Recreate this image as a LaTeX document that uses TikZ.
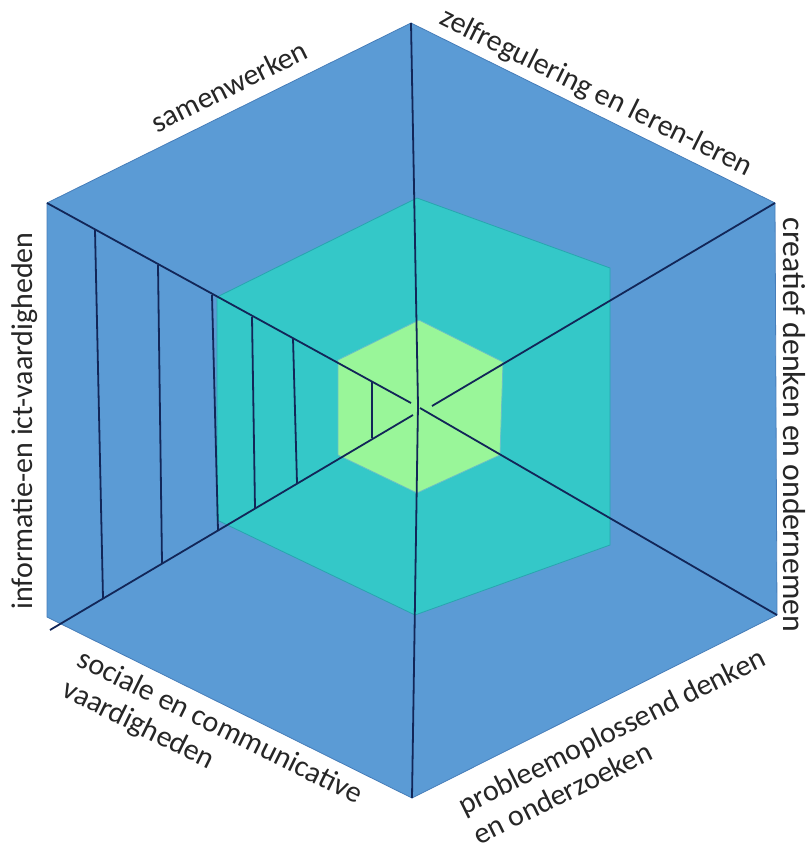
\documentclass[tikz,border=0pt]{standalone}
\usepackage{fontspec}
\setmainfont{Carlito}
\usetikzlibrary{calc}

\definecolor{outerblue}{RGB}{91,155,213}
\definecolor{outeredge}{RGB}{70,125,185}
\definecolor{midteal}{RGB}{52,200,200}
\definecolor{midedge}{RGB}{40,165,175}
\definecolor{innergreen}{RGB}{153,246,153}
\definecolor{spokecol}{RGB}{18,38,88}

\tikzset{
  spoke/.style={spokecol, line width=1.8pt},
  rung/.style={spokecol, line width=1.8pt},
  skill/.style={font=\fontsize{30}{34}\selectfont, text=black!85, inner sep=0pt, align=left}
}

\begin{document}
\begin{tikzpicture}[x=1pt, y=-1pt]
    \useasboundingbox (0,0) rectangle (808,849);

    % Outer hexagon
    \coordinate (oT) at (411,23);
    \coordinate (oUR) at (775,203);
    \coordinate (oLR) at (777,615);
    \coordinate (oB) at (412,798);
    \coordinate (oLL) at (47,617);
    \coordinate (oUL) at (47,203);
    \filldraw[fill=outerblue, draw=outeredge, line width=0.8pt]
        (oT) -- (oUR) -- (oLR) -- (oB) -- (oLL) -- (oUL) -- cycle;

    % Middle hexagon
    \filldraw[fill=midteal, draw=midedge, line width=0.8pt]
        (417,198) -- (610,268) -- (610,545) -- (415,615) -- (217,520) -- (217,297) -- cycle;

    % Inner hexagon
    \filldraw[fill=innergreen, draw=midedge!70, line width=0.8pt]
        (419,320) -- (503,362) -- (500,455) -- (417,493) -- (338,455) -- (338,360) -- cycle;

    % Spokes
    \coordinate (c) at (418,405);
    \draw[spoke] (oT) -- (c) -- (oB);
    \draw[spoke] (oUL) -- (411,403);
    \draw[spoke] (50,630) -- (413,415);
    \draw[spoke] (oUR) -- (432,406);
    \draw[spoke] (oLR) -- (420,408);

    % Rungs in the left sector
    \foreach \xa/\ya/\xb/\yb in {95/230/103/598, 158/265/162/563, 212/295/218/530,
                                 252/317/255/508, 293/338/297/483, 372/382/372/438}
        \draw[rung] (\xa,\ya) -- (\xb,\yb);

    % Labels
    \node[skill, rotate=26.3] (samen) at (229,86) {samenwerken};
    \node[skill, rotate=-26.3] (zelf) at (596,93) {zelfregulering en leren-leren};
    \node[skill, rotate=-90, font=\fontsize{31.8}{34}\selectfont] (creatief) at (794,425) {creatief denken en ondernemen};
    \node[skill, rotate=90] (info) at (25,421) {informatie-en ict-vaardigheden};
    \node[skill, rotate=-26.3] (sociaal) at (212,743) {sociale en communicative\\vaardigheden};
    \node[skill, rotate=26.3] (probleem) at (619,746) {probleemoplossend denken\\en onderzoeken};
\end{tikzpicture}
\end{document}
